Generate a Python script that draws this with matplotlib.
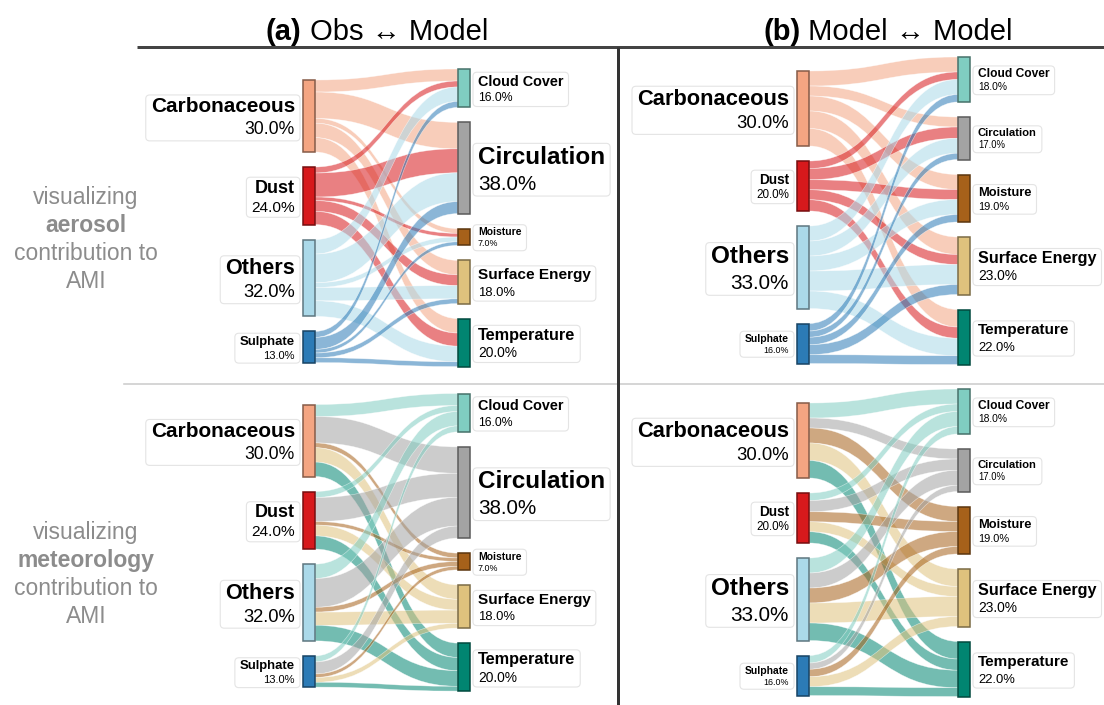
import numpy as np
import matplotlib
matplotlib.use("Agg")
import matplotlib.pyplot as plt
from matplotlib.path import Path
from matplotlib.patches import PathPatch, Rectangle, FancyBboxPatch
from matplotlib.colors import to_rgb

plt.rcParams['font.family'] = ['Liberation Sans', 'DejaVu Sans']

sources = ['Carbonaceous', 'Dust', 'Others', 'Sulphate']
targets = ['Cloud Cover', 'Circulation', 'Moisture', 'Surface Energy', 'Temperature']
source_colors = ['#f4a582', '#d7191c', '#abd9e9', '#2c7bb6']
target_colors = ['#80cdc1', '#a3a3a3', '#a6611a', '#dfc27d', '#018571']

# contribution (%) of each aerosol type to each meteorological driver
flows_obs = np.array([
    [5.0, 11.0, 2.0, 6.0, 6.0],
    [2.5, 10.0, 1.5, 4.5, 5.5],
    [6.0, 12.0, 2.0, 5.5, 6.5],
    [2.5, 5.0, 1.5, 2.0, 2.0],
])
flows_model = np.array([
    [6.0, 4.0, 6.0, 7.0, 7.0],
    [3.0, 4.5, 4.0, 4.0, 4.5],
    [6.0, 6.0, 6.0, 8.0, 7.0],
    [3.0, 2.5, 3.0, 4.0, 3.5],
])

W, H = 1104, 705
fig = plt.figure(figsize=(W / 100, H / 100), dpi=100)
ax = fig.add_axes([0, 0, 1, 1])
ax.set_xlim(0, W)
ax.set_ylim(H, 0)
ax.axis('off')
renderer = fig.canvas.get_renderer()

PX = 72 / 100  # points per pixel
NODE_W = 12
GAP = 15
ALPHA = 0.55


def darker(c, f=0.55):
    r, g, b = to_rgb(c)
    return (r * f, g * f, b * f)


def extent(t):
    bb = t.get_window_extent(renderer)
    inv = ax.transData.inverted()
    (x0, y0), (x1, y1) = inv.transform([[bb.x0, bb.y0], [bb.x1, bb.y1]])
    return min(x0, x1), min(y0, y1), max(x0, x1), max(y0, y1)


def node_label(x, yc, name, value, size, align):
    s_px = size / PX
    p_px = 0.85 * s_px
    h = 0.716 * s_px + 0.45 * s_px + 0.716 * p_px
    t1 = ax.text(x, yc - h / 2 + 0.716 * s_px, name, fontsize=size, fontweight='bold',
                 ha=align, va='baseline', zorder=6)
    t2 = ax.text(x, yc + h / 2, f'{value:.1f}%', fontsize=size * 0.85,
                 ha=align, va='baseline', zorder=6)
    e1, e2 = extent(t1), extent(t2)
    bx0, by0 = min(e1[0], e2[0]) - 5, min(e1[1], e2[1]) - 2.5
    bx1, by1 = max(e1[2], e2[2]) + 5, max(e1[3], e2[3]) + 2.5
    ax.add_patch(FancyBboxPatch((bx0, by0), bx1 - bx0, by1 - by0,
                                boxstyle='round,pad=0,rounding_size=4',
                                fc='white', ec='#e4e4e4', lw=0.8, zorder=5))


def sankey(flows, x_src, x_tgt, src_top, tgt_top, k, by_target):
    src_tot = flows.sum(axis=1)
    tgt_tot = flows.sum(axis=0)
    src_y = src_top + np.concatenate([[0], np.cumsum(src_tot[:-1])]) * k + np.arange(len(src_tot)) * GAP
    tgt_y = tgt_top + np.concatenate([[0], np.cumsum(tgt_tot[:-1])]) * k + np.arange(len(tgt_tot)) * GAP

    x0 = x_src + NODE_W
    x1 = x_tgt
    xm = (x0 + x1) / 2
    codes = [Path.MOVETO, Path.CURVE4, Path.CURVE4, Path.CURVE4,
             Path.LINETO, Path.CURVE4, Path.CURVE4, Path.CURVE4, Path.CLOSEPOLY]
    for i in range(len(sources)):
        for j in range(len(targets)):
            v = flows[i, j] * k
            ys = src_y[i] + flows[i, :j].sum() * k
            yt = tgt_y[j] + flows[:i, j].sum() * k
            verts = [(x0, ys), (xm, ys), (xm, yt), (x1, yt),
                     (x1, yt + v), (xm, yt + v), (xm, ys + v), (x0, ys + v), (x0, ys)]
            c = target_colors[j] if by_target else source_colors[i]
            ax.add_patch(PathPatch(Path(verts, codes), fc=(*to_rgb(c), ALPHA),
                                   ec=(1, 1, 1, 0.6), lw=0.4, zorder=2))

    vals = np.concatenate([src_tot, tgt_tot])
    vmin, vmax = vals.min(), vals.max()

    def fsize(v):
        return 7.5 + 10 * (v - vmin) / (vmax - vmin)

    for i, name in enumerate(sources):
        h = src_tot[i] * k
        ax.add_patch(Rectangle((x_src, src_y[i]), NODE_W, h, fc=source_colors[i],
                               ec=darker(source_colors[i]), lw=1.1, zorder=4))
        node_label(x_src - 8, src_y[i] + h / 2, name, src_tot[i], fsize(src_tot[i]), 'right')
    for j, name in enumerate(targets):
        h = tgt_tot[j] * k
        ax.add_patch(Rectangle((x_tgt, tgt_y[j]), NODE_W, h, fc=target_colors[j],
                               ec=darker(target_colors[j]), lw=1.1, zorder=4))
        node_label(x_tgt + NODE_W + 8, tgt_y[j] + h / 2, name, tgt_tot[j], fsize(tgt_tot[j]), 'left')


# (a) observations vs model, (b) model vs model; top row coloured by aerosol, bottom by meteorology
sankey(flows_obs, 303, 458, 80, 69, 2.4, by_target=False)
sankey(flows_obs, 303, 458, 404.5, 393.5, 2.4, by_target=True)
sankey(flows_model, 797, 958, 71, 57, 2.5, by_target=False)
sankey(flows_model, 797, 958, 403, 389, 2.5, by_target=True)


def title(xc, tag, rest):
    t1 = ax.text(0, 40, tag, fontsize=21, fontweight='bold', ha='left', va='baseline')
    t2 = ax.text(0, 40, ' ' + rest, fontsize=21, ha='left', va='baseline')
    w1 = extent(t1)[2] - extent(t1)[0]
    w2 = extent(t2)[2] - extent(t2)[0]
    start = xc - (w1 + w2) / 2
    t1.set_x(start)
    t2.set_x(start + w1)


title(377, '(a)', 'Obs \u2194 Model')
title(888, '(b)', 'Model \u2194 Model')

# frame lines
ax.plot([137, W], [47, 47], color='#444444', lw=3 * PX, solid_capstyle='butt', zorder=7)
ax.plot([618, 618], [47, H], color='#333333', lw=3 * PX, solid_capstyle='butt', zorder=7)
ax.plot([124, W], [383.5, 383.5], color='#cccccc', lw=1.6 * PX, zorder=1)

# row descriptions
for base, word in [(204, 'aerosol'), (539, 'meteorology')]:
    lines = [('visualizing', 'normal'), (word, 'bold'), ('contribution to', 'normal'), ('AMI', 'normal')]
    for n, (txt, weight) in enumerate(lines):
        ax.text(86, base + 28 * n, txt, fontsize=16.5, fontweight=weight, color='#8c8c8c',
                ha='center', va='baseline')

fig.savefig('out.png', dpi=100)
